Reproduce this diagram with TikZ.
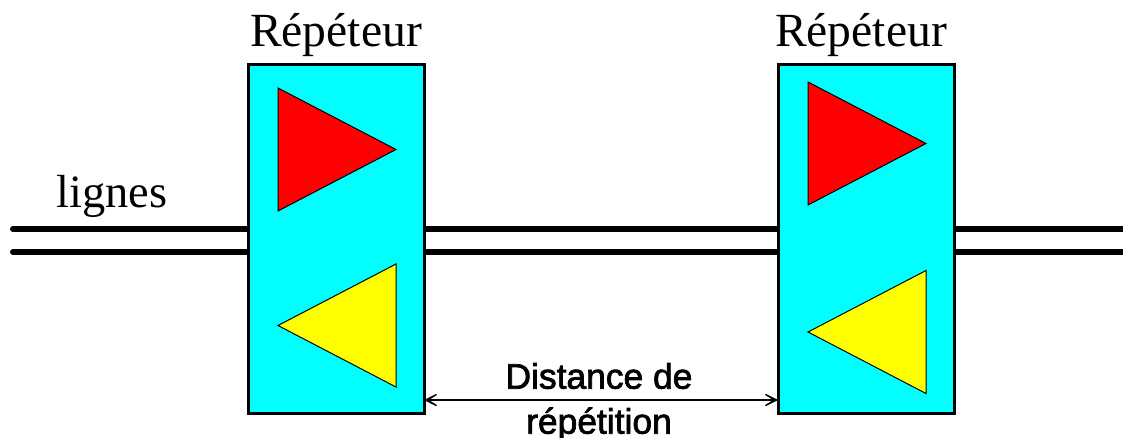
\documentclass[tikz,border=0pt]{standalone}
\usepackage{fontspec}
\setmainfont{Liberation Serif}
\newfontfamily\distfont[FakeBold=2]{Liberation Sans}
\usetikzlibrary{arrows.meta,positioning,shapes.geometric}
\definecolor{fondcyan}{RGB}{0,255,255}
\definecolor{ampred}{RGB}{255,0,0}
\definecolor{ampyellow}{RGB}{255,255,0}
\tikzset{
    repeteur/.style = {
        draw,
        line width=3pt,
        fill = fondcyan,
        minimum width=176pt,
        minimum height=348pt,
        outer sep=0pt,
        },
    ampli/.style = {
        draw,
        line width=1pt,
        isosceles triangle,
        isosceles triangle stretches,
        minimum width=123pt,
        minimum height=118pt,
        inner sep=0pt,
        outer sep=0pt,
        anchor=apex,
        },
    titre/.style = {
        font=\fontsize{47.6}{50}\selectfont,
        inner sep=0pt,
        },
    ligne/.style = {
        line width=6pt,
        line cap=round,
        },
    portee/.style = {
        line width=1.2pt,
        {Stealth[length=22pt,width=22pt,inset=17pt]}-{Stealth[length=22pt,width=22pt,inset=17pt]},
        },
}

\begin{document}
\begin{tikzpicture}[x=1pt,y=1pt]
    \useasboundingbox (0,0) rectangle (1123,437);

    \node[repeteur] (A) at (336,198) {};
    \node[repeteur, right=354pt of A] (B) {};

    \node[titre, above=8pt of A] (tA) {Répéteur};
    \node[titre, above=8pt of B, xshift=-5pt] (tB) {Répéteur};
    \node[titre, anchor=base, font=\fontsize{46.4}{50}\selectfont] (lignes) at (112,230) {lignes};

    \node[ampli, fill=ampred] (A1) at (396,287.5) {};
    \node[ampli, fill=ampyellow, shape border rotate=180] (A2) at (278,111.5) {};
    \node[ampli, fill=ampred] (B1) at (926,293.5) {};
    \node[ampli, fill=ampyellow, shape border rotate=180] (B2) at (808,105) {};

    \coordinate (h1) at (13,208);
    \coordinate (h2) at (13,185);
    \coordinate (f1) at (1123,208);
    \coordinate (f2) at (1123,185);
    \coordinate (d) at (424,37);

    \draw[ligne] (h1) -- ([xshift=-1pt]h1 -| A.west);
    \draw[ligne] (h2) -- ([xshift=-1pt]h2 -| A.west);
    \draw[ligne, line cap=butt] (h1 -| A.east) -- (h1 -| B.west);
    \draw[ligne, line cap=butt] (h2 -| A.east) -- (h2 -| B.west);
    \draw[ligne, line cap=butt] (h1 -| B.east) -- (f1);
    \draw[ligne, line cap=butt] (h2 -| B.east) -- (f2);

    \draw[portee] (d -| A.east) -- (d -| B.west);

    \node[font=\distfont\fontsize{35.4}{45}\selectfont, align=center, inner sep=0pt] (dist) at (599,35) {Distance de\\répétition};
\end{tikzpicture}
\end{document}
